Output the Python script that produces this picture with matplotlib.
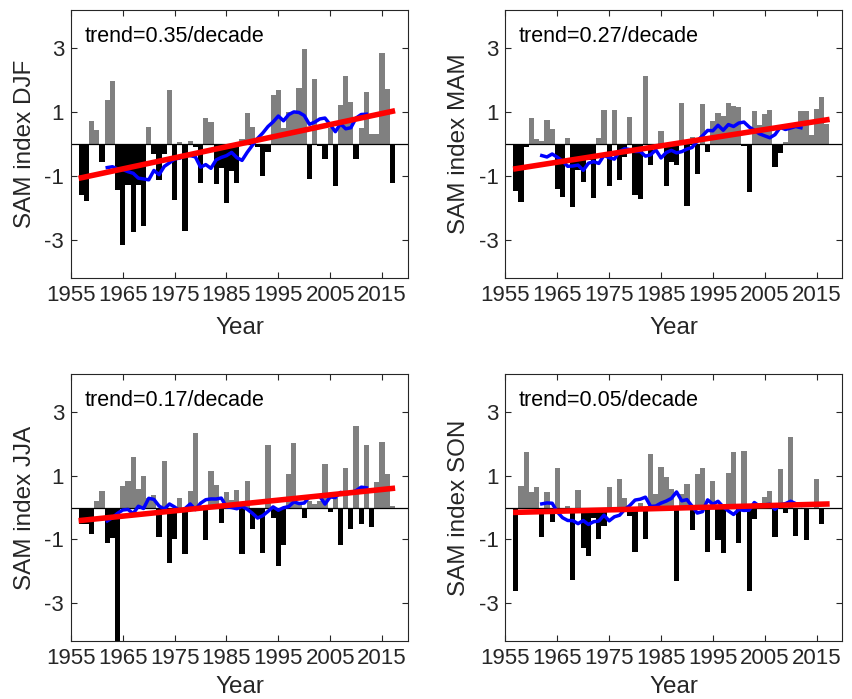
import numpy as np
import pandas as pd
import matplotlib
matplotlib.use('Agg')
import matplotlib.pyplot as plt

plt.rcParams['font.family'] = ['Liberation Sans', 'DejaVu Sans']

# seasonal SAM index, 1957-2017
years = np.arange(1957, 2018)

sam_djf = [-1.59, -1.80, 0.72, 0.44, -0.58, 1.38, 1.97, -1.44, -3.18, -1.28,
           -2.77, -1.30, -2.57, 0.53, -0.31, -1.12, -0.30, 1.69, -1.75, 0.06,
           -2.74, 0.09, -0.08, -1.22, 0.81, 0.69, -1.24, -0.75, -1.86, -0.86,
           -1.23, 0.15, 0.96, 0.53, -0.10, -0.99, -0.26, 1.53, 1.69, 0.50,
           1.00, 1.00, 1.77, 2.97, -1.10, 2.03, -0.06, -0.48, 0.49, -1.33,
           1.22, 2.12, 1.32, -0.48, 0.51, 1.62, 0.31, 0.31, 2.86, 1.71,
           -1.23]

sam_mam = [-1.47, -1.83, -0.10, 0.81, 0.15, 0.09, 0.75, 0.47, -1.40, -1.65,
           0.19, -1.96, -0.80, -1.20, -0.50, -1.68, 0.19, 1.06, -1.33, 1.06,
           -1.12, -0.42, 0.84, -1.61, -1.71, 2.12, -0.67, -0.15, 0.41, -1.33,
           -0.55, -0.65, 1.28, -1.95, 0.23, -0.93, 1.25, -0.24, 0.72, 0.97,
           0.88, 1.28, 1.19, 1.16, -0.05, -1.49, 1.03, 0.59, 0.94, 1.06,
           -0.71, -0.27, 0.05, 0.50, 0.50, 1.03, 1.03, 0.28, 1.09, 1.47,
           0.63]

sam_jja = [-0.53, -0.53, -0.84, 0.20, 0.54, -1.10, -0.95, -4.50, 0.67, 0.85,
           1.60, 0.58, 1.00, 0.30, 0.39, -0.92, 1.48, -1.73, -0.98, 0.29,
           -1.45, 0.54, 2.35, -0.05, -1.01, 1.14, 0.70, -0.48, 0.48, 0.23,
           0.57, -1.47, 0.85, -0.67, -0.30, -1.44, 1.98, -0.32, -1.85, -1.19,
           1.07, 2.04, 0.10, -0.32, 0.20, 0.10, 0.20, 1.39, -0.14, 0.30,
           -1.19, 1.26, -0.67, 2.57, -0.50, 1.98, -0.60, 0.82, 2.07, 1.07,
           0.05]

sam_son = [-2.61, 0.67, 1.76, 0.48, 0.64, -0.92, 0.48, -0.45, 1.26, -0.05,
           0.05, -2.29, 0.57, -1.26, -1.51, -0.32, -0.98, -0.57, 0.64, -0.10,
           0.89, 0.29, -0.26, -1.39, 0.14, -0.98, 1.69, 0.42, 1.29, 0.95,
           0.60, -2.32, 0.42, 0.76, -0.70, 1.07, 1.26, -1.39, 0.85, -1.01,
           -1.42, 1.10, 1.76, -1.10, 1.79, -2.64, -0.35, 0.05, 0.32, 0.54,
           -0.92, 1.23, -0.17, 2.23, -0.89, 0.00, -1.01, 0.00, 0.89, -0.51,
           0.00]

seasons = ['DJF', 'MAM', 'JJA', 'SON']
series = [sam_djf, sam_mam, sam_jja, sam_son]
trend_labels = ['0.35', '0.27', '0.17', '0.05']

fig = plt.figure(figsize=(8.53, 6.99), dpi=100)
boxes = [[0.0832, 0.6023, 0.395, 0.3834],
         [0.5926, 0.6023, 0.395, 0.3834],
         [0.0832, 0.0830, 0.395, 0.3815],
         [0.5926, 0.0830, 0.395, 0.3815]]
xpads = [8, 8, 5, 5]

for box, season, vals, tr, xpad in zip(boxes, seasons, series, trend_labels, xpads):
    ax = fig.add_axes(box)
    vals = np.array(vals)
    pos = vals >= 0
    ax.bar(years[pos], vals[pos], width=1.0, color='#808080', linewidth=0)
    ax.bar(years[~pos], vals[~pos], width=1.0, color='k', linewidth=0)
    ax.axhline(0, color='k', lw=0.9)

    # 11-year running mean
    rm = pd.Series(vals).rolling(11, center=True).mean()
    ax.plot(years, rm, color='b', lw=2.5)

    # linear trend
    coef = np.polyfit(years, vals, 1)
    ax.plot(years, np.polyval(coef, years), color='r', lw=4)

    ax.set_xlim(1955, 2020)
    ax.set_ylim(-4.2, 4.2)
    ax.set_xticks(range(1955, 2016, 10))
    ax.set_yticks([-3, -1, 1, 3])
    ax.set_yticklabels(['-3', '-1', '1', '3'])
    ax.tick_params(direction='in', top=True, right=True, length=4, width=0.8,
                   labelsize=16, colors='#262626', pad=5)
    for sp in ax.spines.values():
        sp.set_color('#262626')
        sp.set_linewidth(0.8)
    ax.set_xlabel('Year', fontsize=17.5, color='#262626', labelpad=xpad)
    ax.set_ylabel('SAM index ' + season, fontsize=17.5, color='#262626', labelpad=6)
    ax.text(0.04, 0.9, 'trend=' + tr + '/decade', transform=ax.transAxes,
            fontsize=15.5, va='center')

fig.savefig('out.png', dpi=100)
